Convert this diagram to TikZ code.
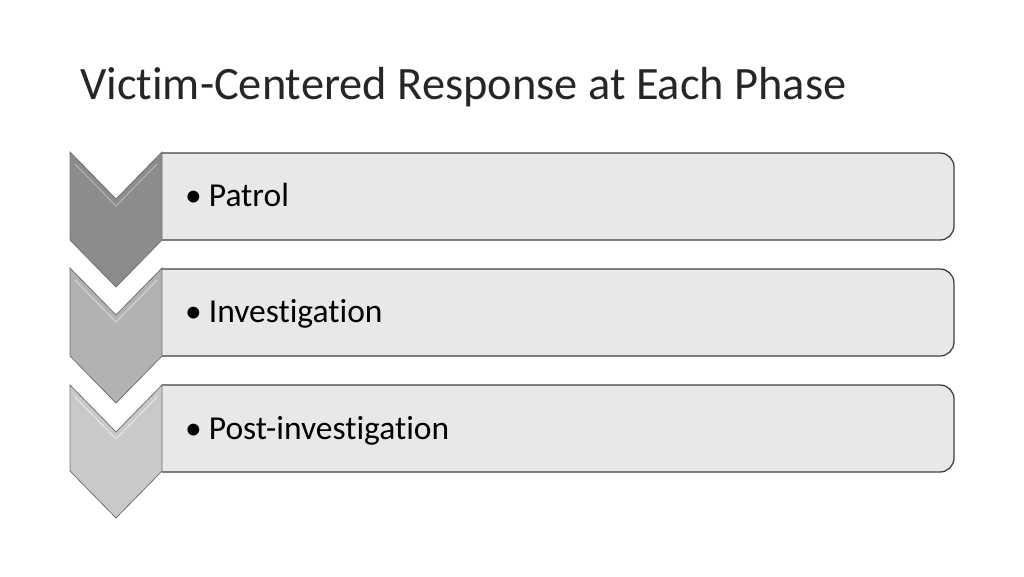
\documentclass[tikz,border=0pt]{standalone}
\usepackage{fontspec}
\setmainfont{Carlito}[Ligatures=NoCommon]
\usepackage{xcolor}
\usetikzlibrary{positioning}

\definecolor{chevA}{gray}{0.55}
\definecolor{chevB}{gray}{0.70}
\definecolor{chevC}{gray}{0.79}
\definecolor{boxfill}{gray}{0.91}
\definecolor{boxline}{gray}{0.25}

\tikzset{
  phasebox/.style={draw=boxline, line width=1.3pt, fill=boxfill, rounded corners=14pt,
    minimum width=820pt, minimum height=87pt, inner sep=0pt},
  phaselabel/.style={font=\fontsize{33.5}{40}\selectfont, inner sep=0pt, anchor=base west},
  chevedge/.style={draw=black!55, line width=0.8pt, line join=miter},
}

\begin{document}
\begin{tikzpicture}[x=1pt, y=-1pt]
\useasboundingbox (0,0) rectangle (1024,576);

% title
\node[font=\fontsize{46.4}{55}\selectfont, text=black!85, anchor=base west, inner sep=0pt] (title) at (80,99) {Victim-Centered Response at Each Phase};

% boxes, left edge hidden behind the chevrons
\begin{scope}
\clip (162,0) rectangle (1024,576);
\node[phasebox] (box1) at (544,196.5) {};
\node[phasebox] (box2) at (544,312.5) {};
\node[phasebox] (box3) at (544,428.5) {};
\end{scope}

% chevrons
\fill[chevA] (70,152) -- (116,199) -- (162,152) -- (162,240) -- (116,287) -- (70,240) -- cycle;
\draw[chevedge] (70,152) -- (116,199) -- (162,152) -- (162,240) -- (116,287) -- (70,240) -- cycle;
\draw[white, opacity=0.35, line width=1pt] (75,164) -- (116,206) -- (157,164);

\fill[chevB] (70,268) -- (116,315) -- (162,268) -- (162,356) -- (116,403) -- (70,356) -- cycle;
\draw[chevedge] (70,268) -- (116,315) -- (162,268) -- (162,356) -- (116,403) -- (70,356) -- cycle;
\draw[white, opacity=0.45, line width=1pt] (75,280) -- (116,322) -- (157,280);

\fill[chevC] (70,385) -- (116,432) -- (162,385) -- (162,471) -- (116,518) -- (70,471) -- cycle;
\draw[chevedge] (70,385) -- (116,432) -- (162,385) -- (162,471) -- (116,518) -- (70,471) -- cycle;
\draw[white, opacity=0.55, line width=1pt] (75,397) -- (116,439) -- (157,397);

% labels
\node[phaselabel] (lbl1) at (185,206) {•\hspace{7pt}Patrol};
\node[phaselabel] (lbl2) at (185,322) {•\hspace{7pt}Investigation};
\node[phaselabel] (lbl3) at (185,439) {•\hspace{7pt}Post-investigation};
\end{tikzpicture}
\end{document}
